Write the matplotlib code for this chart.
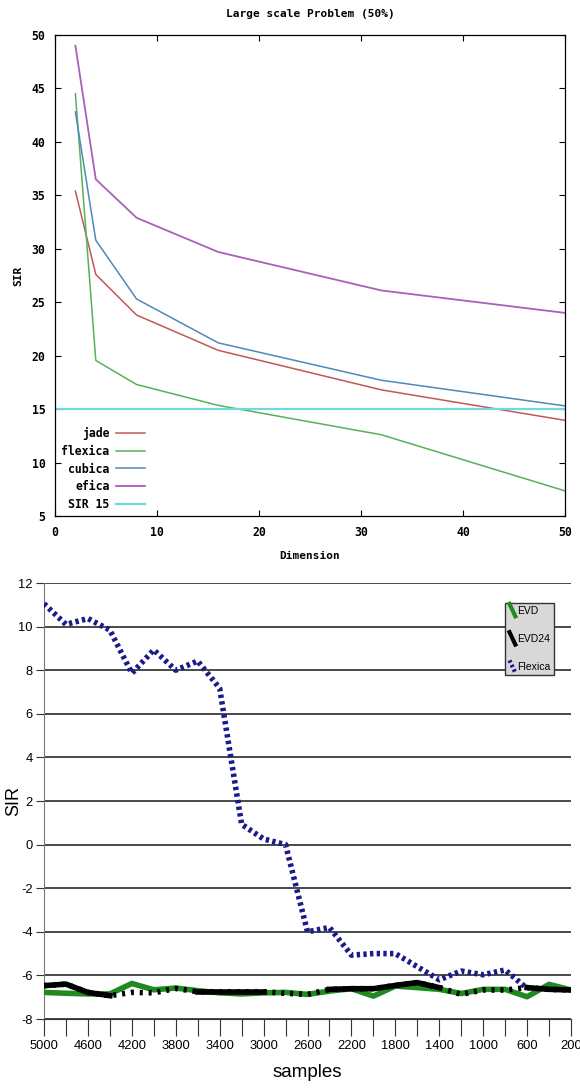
import matplotlib
matplotlib.use("Agg")
import matplotlib.pyplot as plt
from matplotlib.lines import Line2D
from matplotlib.legend_handler import HandlerLine2D

plt.rcParams["axes.unicode_minus"] = False

# top panel: SIR versus problem dimension
dims = [2, 4, 8, 16, 32, 50]
jade = [35.4, 27.6, 23.8, 20.5, 16.8, 13.95]
flexica = [44.5, 19.55, 17.3, 15.35, 12.6, 7.35]
cubica = [42.8, 30.8, 25.3, 21.2, 17.7, 15.3]
efica = [49.0, 36.5, 32.9, 29.7, 26.1, 24.0]
sir_ref = 15

# bottom panel: SIR versus number of samples
samples = [5000, 4800, 4600, 4400, 4200, 4000, 3800, 3600, 3400, 3200, 3000, 2800, 2600,
           2400, 2200, 2000, 1800, 1600, 1400, 1200, 1000, 800, 600, 400, 200]
evd = [-6.78, -6.82, -6.85, -6.85, -6.37, -6.66, -6.58, -6.7, -6.8, -6.85, -6.8, -6.78, -6.87,
       -6.72, -6.61, -6.95, -6.49, -6.56, -6.64, -6.83, -6.64, -6.64, -6.98, -6.41, -6.67]
evd24 = [-6.47, -6.4, -6.78, -6.93, -6.78, -6.8, -6.6, -6.75, -6.75, -6.75, -6.75, -6.82, -6.87,
         -6.64, -6.61, -6.61, -6.46, -6.33, -6.56, -6.87, -6.67, -6.67, -6.56, -6.64, -6.67]
flex_samples = samples[:23]
flex_sir = [11.05, 10.1, 10.37, 9.84, 7.86, 8.93, 8.0, 8.42, 7.17, 0.93, 0.26, 0.0, -4.0,
            -3.8, -5.07, -5.0, -5.0, -5.6, -6.2, -5.8, -5.97, -5.75, -6.6]

# stretches where the EVD24 line is drawn solid (index ranges into samples)
evd24_solid = [(0, 4), (7, 11), (13, 19), (22, 25)]

mono = "DejaVu Sans Mono"
sans = "Liberation Sans"


class DiagonalHandler(HandlerLine2D):
    # draws the legend sample as a short line from top-left to bottom-right
    def create_artists(self, legend, orig_handle, xdescent, ydescent, width, height,
                       fontsize, trans):
        line = Line2D([width * 0.15, width * 0.85], [height * 1.35, -height * 0.35])
        self.update_prop(line, orig_handle, legend)
        line.set_transform(trans)
        return [line]


fig = plt.figure(figsize=(5.8, 10.9), dpi=100)

# ---------- top panel ----------
ax1 = fig.add_axes([55 / 580, 1 - 516 / 1090, 510 / 580, 481 / 1090])
ax1.plot(dims, jade, color="#c05858", lw=1.1, label="jade")
ax1.plot(dims, flexica, color="#58b058", lw=1.1, label="flexica")
ax1.plot(dims, cubica, color="#5088b8", lw=1.1, label="cubica")
ax1.plot(dims, efica, color="#a860b8", lw=1.3, label="efica")
ax1.axhline(sir_ref, color="#70dada", lw=1.6, label="SIR 15")
ax1.set_xlim(0, 50)
ax1.set_ylim(5, 50)
ax1.set_xticks(range(0, 51, 10))
ax1.set_yticks(range(5, 51, 5))
ax1.tick_params(direction="in", length=4, width=0.8, top=True, right=True, pad=7)
for lab in ax1.get_xticklabels() + ax1.get_yticklabels():
    lab.set_fontfamily(mono)
    lab.set_fontweight("bold")
    lab.set_fontsize(8.3)
for sp in ax1.spines.values():
    sp.set_linewidth(0.9)
ax1.set_title("Large scale Problem (50%)", fontfamily=mono, fontweight="bold",
              fontsize=8, pad=13)
ax1.set_xlabel("Dimension", fontfamily=mono, fontweight="bold", fontsize=8, labelpad=9)
ax1.set_ylabel("SIR", fontfamily=mono, fontweight="bold", fontsize=8, labelpad=6)
ax1.legend(loc="lower right", bbox_to_anchor=(0.177, 0.01), frameon=False,
           markerfirst=False, borderpad=0, borderaxespad=0, handlelength=2.5,
           handletextpad=0.6, labelspacing=0.42,
           prop={"family": mono, "weight": "bold", "size": 8.3})

# ---------- bottom panel ----------
ax2 = fig.add_axes([44 / 580, 1 - 1019 / 1090, 527 / 580, 436 / 1090])
ax2.plot(flex_samples, flex_sir, color="#1a1a8c", lw=4, linestyle=(0, (0.6, 0.6)),
         dash_capstyle="butt", label="Flexica", zorder=3)
ax2.plot(samples, evd, color="#1f8a1f", lw=4, label="EVD", zorder=4)
ax2.plot(samples, evd24, color="black", lw=4, linestyle=(0, (0.55, 1.05)),
         dash_capstyle="butt", zorder=5)
for i0, i1 in evd24_solid:
    ax2.plot(samples[i0:i1], evd24[i0:i1], color="black", lw=4, zorder=5)

ax2.set_xlim(5000, 200)
ax2.set_ylim(-8, 12)
ax2.set_yticks(range(-8, 13, 2))
ax2.set_xticks(range(5000, 199, -400))
ax2.set_xticks(range(5000, 199, -200), minor=True)
ax2.grid(axis="y", color="#3a3a3a", lw=1.3)
ax2.set_axisbelow(True)
ax2.tick_params(axis="x", which="both", direction="out", length=12, width=0.8,
                colors="#333333", labelcolor="black", pad=3)
ax2.tick_params(axis="y", direction="out", length=6, width=0.8, colors="#333333",
                labelcolor="black", pad=2)
for lab in ax2.get_xticklabels() + ax2.get_yticklabels():
    lab.set_fontfamily(sans)
    lab.set_fontsize(9.3)
for side in ["top", "right"]:
    ax2.spines[side].set_visible(False)
ax2.spines["left"].set_color("#777777")
ax2.spines["bottom"].set_color("#333333")
ax2.set_xlabel("samples", fontfamily=sans, fontsize=13.5, labelpad=9)
ax2.set_ylabel("SIR", fontfamily=sans, fontsize=13)
ax2.yaxis.set_label_coords(-0.042, 0.5)

handles = [Line2D([], [], color="#1f8a1f", lw=3),
           Line2D([], [], color="black", lw=3),
           Line2D([], [], color="#1a1a8c", lw=3, linestyle=(0, (0.6, 0.6)))]
leg = ax2.legend(handles, ["EVD", "EVD24", "Flexica"], loc="upper left",
                 bbox_to_anchor=(0.875, 0.955), fancybox=False, framealpha=1,
                 facecolor="#d8d8d8", edgecolor="#333333", borderpad=0.3,
                 borderaxespad=0, handlelength=0.8, handletextpad=0.1,
                 labelspacing=1.75, prop={"family": sans, "size": 7.5},
                 handler_map={Line2D: DiagonalHandler()})
leg.get_frame().set_linewidth(1.0)

fig.savefig("out.png", dpi=100)
